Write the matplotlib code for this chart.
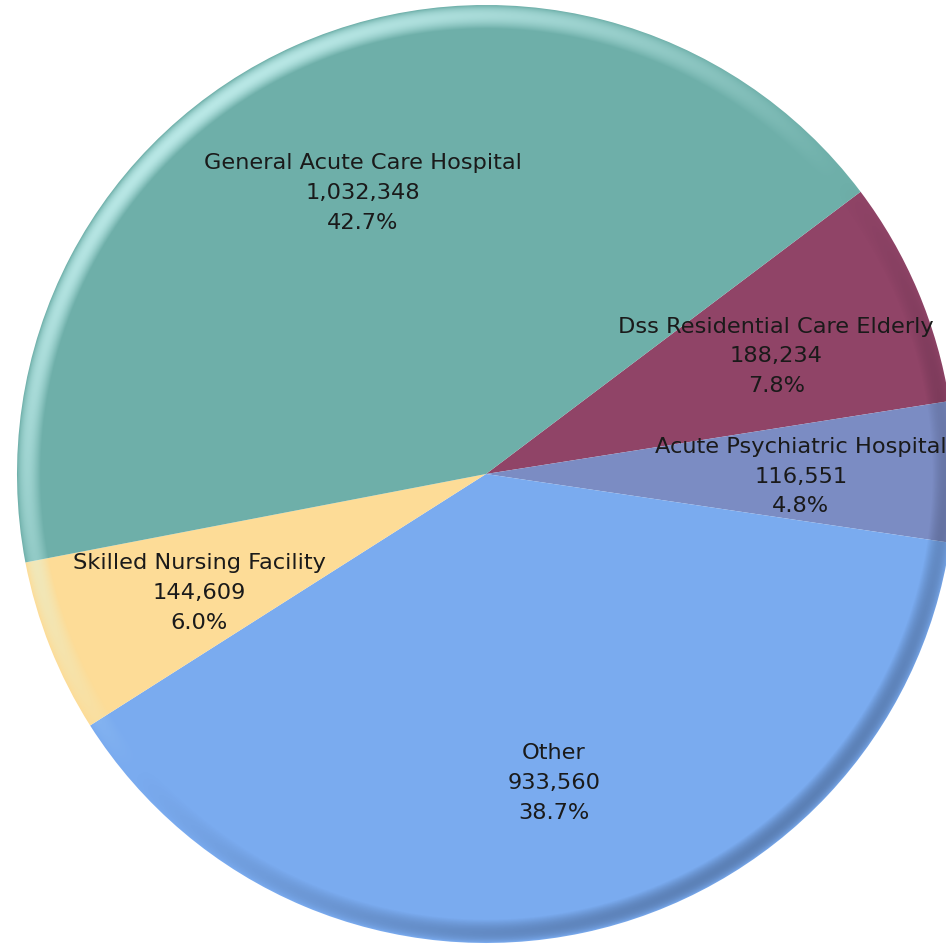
import numpy as np
import matplotlib
matplotlib.use("Agg")
import matplotlib.pyplot as plt
import matplotlib.transforms as mtransforms
from matplotlib.patches import Circle

# Data (clockwise order starting from upper right)
categories = ["Dss Residential Care Elderly", "Acute Psychiatric Hospital", "Other",
              "Skilled Nursing Facility", "General Acute Care Hospital"]
values = [188234, 116551, 933560, 144609, 1032348]
colors = ["#904467", "#7b8cc3", "#7aabef", "#fddc97", "#6eafa9"]

total = sum(values)
labels = [f"{c}\n{v:,}\n{v / total * 100:.1f}%" for c, v in zip(categories, values)]
label_iter = iter(labels)

W, H = 946, 949
fig = plt.figure(figsize=(W / 100, H / 100), dpi=100)
ax = fig.add_axes([0, 0, 1, 1])

R = 469.0
cx, cy = 486.0, 474.0

wedges, texts, autotexts = ax.pie(
    values, colors=colors, startangle=37.0, counterclock=False,
    radius=1.0, autopct=lambda p: next(label_iter), pctdistance=0.665,
    wedgeprops=dict(linewidth=0, antialiased=True),
    textprops=dict(fontsize=16.2, color="#1a1a1a", family="DejaVu Sans", linespacing=1.6),
)

# Bevel shading overlay
n = 1200
xs = np.linspace(-1, 1, n)
X, Y = np.meshgrid(xs, xs[::-1])
r = np.sqrt(X ** 2 + Y ** 2)
d = 1 - r
w = 0.05
t = np.clip(d / w, 0, 1)
profile = np.where(d > 0, np.sin(np.pi * np.clip(t * 1.0, 0, 1)) ** 0.7 * (1 - t) ** 0.3, 0)
ang = np.arctan2(Y, X)
light = np.cos(ang - np.deg2rad(130))
rgba = np.zeros((n, n, 4))
pos = light > 0
rgba[..., 0] = np.where(pos, 0.85, 0.0)
rgba[..., 1] = np.where(pos, 1.0, 0.0)
rgba[..., 2] = np.where(pos, 1.0, 0.05)
alpha = np.where(pos, 0.85 * light, 0.3 * (-light)) * profile
rgba[..., 3] = np.clip(alpha, 0, 1)
im = ax.imshow(rgba, extent=[-1, 1, -1, 1], zorder=2, interpolation="bilinear")
im.set_clip_path(Circle((0, 0), 1.0, transform=ax.transData))

ax.set_xlim(-cx / R, (W - cx) / R)
ax.set_ylim(-(H - cy) / R, cy / R)
ax.set_aspect("equal", adjustable="datalim")
ax.axis("off")

shift = mtransforms.offset_copy(ax.transData, fig=fig, x=3, y=-4, units="dots")
for t_ in autotexts:
    t_.set_zorder(5)
    t_.set_ha("center")
    t_.set_va("center")
    t_.set_transform(shift)

fig.savefig("out.png", dpi=100, facecolor="white")
